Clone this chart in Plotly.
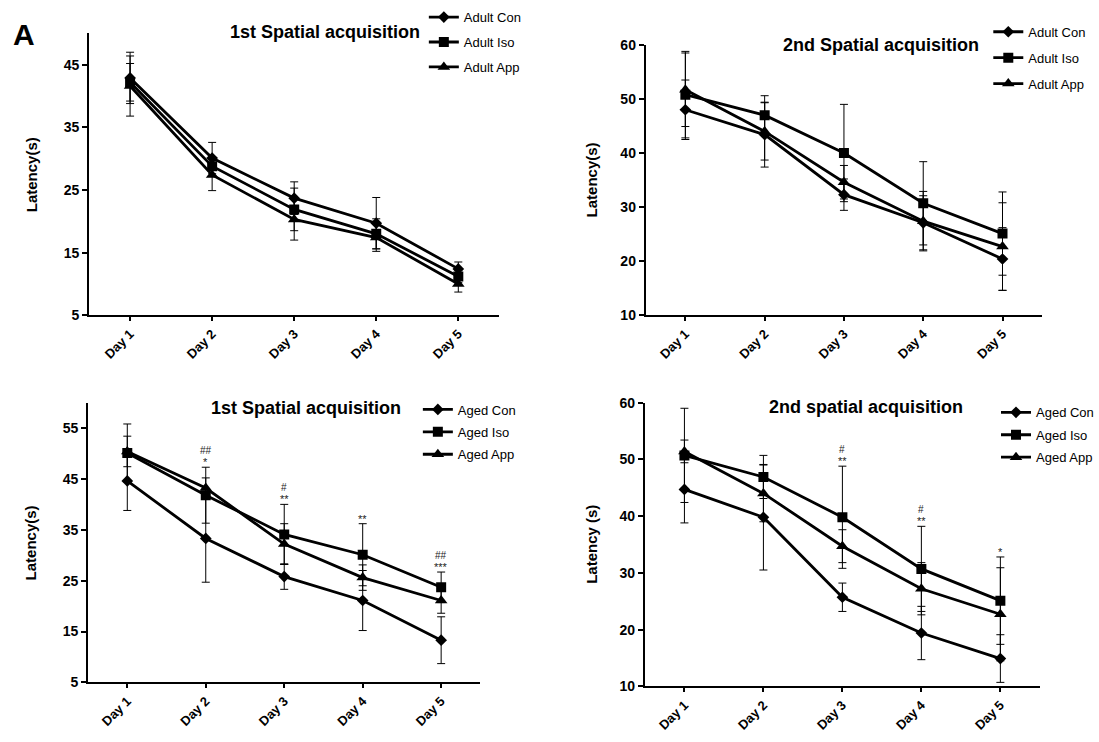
import plotly.graph_objects as go

days = ["Day 1", "Day 2", "Day 3", "Day 4", "Day 5"]

# Adult, 1st spatial acquisition
adult1_con = [42.9, 30.1, 23.7, 19.7, 12.4]
adult1_con_err = [4.1, 2.5, 2.6, 4.1, 1.1]
adult1_iso = [42.2, 28.8, 21.9, 18.0, 11.2]
adult1_iso_err = [3.0, 1.5, 3.4, 2.4, 1.0]
adult1_app = [41.6, 27.4, 20.3, 17.4, 10.0]
adult1_app_err = [4.8, 2.5, 3.3, 2.2, 1.3]

# Adult, 2nd spatial acquisition
adult2_con = [48.0, 43.4, 32.3, 27.1, 20.4]
adult2_con_err = [5.5, 6.0, 2.9, 5.0, 5.8]
adult2_iso = [50.8, 47.0, 40.0, 30.7, 25.1]
adult2_iso_err = [8.0, 3.6, 9.0, 7.7, 7.7]
adult2_app = [51.7, 44.0, 34.6, 27.4, 22.7]
adult2_app_err = [6.8, 5.3, 3.1, 5.5, 8.1]

# Aged, 1st spatial acquisition
aged1_con = [44.6, 33.3, 25.8, 21.1, 13.3]
aged1_con_err = [5.8, 8.6, 2.5, 5.9, 4.6]
aged1_iso = [50.1, 41.8, 34.1, 30.1, 23.7]
aged1_iso_err = [5.7, 5.5, 5.9, 6.1, 3.0]
aged1_app = [50.4, 43.2, 32.2, 25.6, 21.1]
aged1_app_err = [3.0, 2.0, 4.0, 2.5, 2.5]
aged1_stars = ["", "*", "**", "**", "***"]
aged1_hash = ["", "##", "#", "", "##"]

# Aged, 2nd spatial acquisition
aged2_con = [44.7, 39.8, 25.7, 19.4, 14.9]
aged2_con_err = [5.9, 9.3, 2.5, 4.7, 4.2]
aged2_iso = [50.7, 46.9, 39.8, 30.7, 25.1]
aged2_iso_err = [8.3, 3.8, 9.0, 7.5, 7.7]
aged2_app = [51.4, 44.0, 34.7, 27.2, 22.7]
aged2_app_err = [2.0, 5.0, 2.9, 4.6, 8.2]
aged2_stars = ["", "", "**", "**", "*"]
aged2_hash = ["", "", "#", "#", ""]

FONT = "Liberation Sans, Arial, sans-serif"
W, H = 1099, 742

fig = go.Figure()

panels = [
    dict(ax="", leg="legend", names=["Adult Con", "Adult Iso", "Adult App"],
         series=[(adult1_con, adult1_con_err), (adult1_iso, adult1_iso_err), (adult1_app, adult1_app_err)],
         xpx=[89.3, 500.7], ypx=[26, 314], yrange=[5, 50], ytick=[5, 15, 25, 35, 45],
         title="1st Spatial acquisition", tx=326, ty=25, ytitle="Latency(s)", ytx=31,
         legx=425, legy=-6, gap=5, stars=None, hashes=None),
    dict(ax="2", leg="legend2", names=["Adult Con", "Adult Iso", "Adult App"],
         series=[(adult2_con, adult2_con_err), (adult2_iso, adult2_iso_err), (adult2_app, adult2_app_err)],
         xpx=[647.5, 1045], ypx=[37.7, 314], yrange=[10, 60], ytick=[10, 20, 30, 40, 50, 60],
         title="2nd Spatial acquisition", tx=883, ty=38, ytitle="Latency(s)", ytx=593,
         legx=991, legy=9, gap=6, stars=None, hashes=None),
    dict(ax="3", leg="legend3", names=["Aged Con", "Aged Iso", "Aged App"],
         series=[(aged1_con, aged1_con_err), (aged1_iso, aged1_iso_err), (aged1_app, aged1_app_err)],
         xpx=[88.3, 481.7], ypx=[403.3, 689.3], yrange=[5, 60], ytick=[5, 15, 25, 35, 45, 55],
         title="1st Spatial acquisition", tx=307, ty=409, ytitle="Latency(s)", ytx=31,
         legx=419, legy=395, gap=2.5, stars=aged1_stars, hashes=aged1_hash),
    dict(ax="4", leg="legend4", names=["Aged Con", "Aged Iso", "Aged App"],
         series=[(aged2_con, aged2_con_err), (aged2_iso, aged2_iso_err), (aged2_app, aged2_app_err)],
         xpx=[646.7, 1042.7], ypx=[403.3, 693.3], yrange=[10, 60], ytick=[10, 20, 30, 40, 50, 60],
         title="2nd spatial acquisition", tx=868, ty=408, ytitle="Latency (s)", ytx=593,
         legx=999, legy=398, gap=2.5, stars=aged2_stars, hashes=aged2_hash),
]

symbols = ["diamond", "square", "triangle-up"]
msizes = [9, 10, 11]

layout = dict(
    width=W, height=H, margin=dict(l=0, r=0, t=0, b=0),
    paper_bgcolor="white", plot_bgcolor="white",
    font=dict(family=FONT, color="black"),
    annotations=[], showlegend=True,
)

for p in panels:
    ax = p["ax"]
    xa = "x" + ax
    ya = "y" + ax
    for (vals, errs), name, sym, ms in zip(p["series"], p["names"], symbols, msizes):
        fig.add_trace(go.Scatter(
            x=days, y=vals, name=name, mode="lines+markers",
            xaxis=xa, yaxis=ya, legend=p["leg"], legendgroup=p["leg"] + name,
            line=dict(color="black", width=2.8),
            marker=dict(symbol=sym, size=ms, color="black"),
            error_y=dict(type="data", array=errs, visible=True, color="black",
                         thickness=1, width=4),
        ))
    xdom = [p["xpx"][0] / W, p["xpx"][1] / W]
    ydom = [1 - p["ypx"][1] / H, 1 - p["ypx"][0] / H]
    layout["xaxis" + ax] = dict(
        domain=xdom, anchor=ya, type="category", range=[-0.5, 4.5],
        showline=True, linecolor="black", linewidth=2, ticks="outside",
        ticklen=4, tickwidth=2, tickcolor="black", showgrid=False, zeroline=False,
        tickangle=-45, tickfont=dict(family=FONT, size=13, color="black", weight="bold"),
    )
    layout["yaxis" + ax] = dict(
        domain=ydom, anchor=xa, range=p["yrange"], tickvals=p["ytick"],
        showline=True, linecolor="black", linewidth=2, ticks="outside",
        ticklen=5, tickwidth=2, tickcolor="black", showgrid=False, zeroline=False,
        tickfont=dict(family=FONT, size=14, color="black", weight="bold"),
    )
    layout[p["leg"]] = dict(
        x=p["legx"] / W, y=1 - p["legy"] / H, xanchor="left", yanchor="top",
        xref="paper", yref="paper", bgcolor="rgba(0,0,0,0)",
        font=dict(family=FONT, size=13, color="black"),
        tracegroupgap=p["gap"], itemwidth=30, traceorder="grouped",
    )
    layout["annotations"].append(dict(
        text="<b>" + p["title"] + "</b>", x=p["tx"] / W, y=1 - p["ty"] / H,
        xref="paper", yref="paper", xanchor="center", yanchor="middle", showarrow=False,
        font=dict(family=FONT, size=18, color="black"),
    ))
    layout["annotations"].append(dict(
        text="<b>" + p["ytitle"] + "</b>", x=p["ytx"] / W,
        y=(ydom[0] + ydom[1]) / 2, xref="paper", yref="paper",
        xanchor="center", yanchor="middle", textangle=-90, showarrow=False,
        font=dict(family=FONT, size=15, color="black"),
    ))
    if p["stars"]:
        for i, d in enumerate(days):
            top = max(s[0][i] + s[1][i] for s in p["series"])
            if p["stars"][i]:
                layout["annotations"].append(dict(
                    text=p["stars"][i], x=d, y=top, xref=xa, yref=ya, showarrow=False,
                    xanchor="center", yanchor="bottom", yshift=-3,
                    font=dict(family=FONT, size=11, color="#222222"),
                ))
            if p["hashes"][i]:
                layout["annotations"].append(dict(
                    text=p["hashes"][i], x=d, y=top, xref=xa, yref=ya, showarrow=False,
                    xanchor="center", yanchor="bottom", yshift=9,
                    font=dict(family=FONT, size=10, color="#222222"),
                ))

layout["annotations"].append(dict(
    text="<b>A</b>", x=11 / W, y=1 - 27 / H, xref="paper", yref="paper",
    xanchor="left", yanchor="middle", showarrow=False,
    font=dict(family=FONT, size=30, color="black"),
))

fig.update_layout(**layout)
fig.write_html("out.html")
